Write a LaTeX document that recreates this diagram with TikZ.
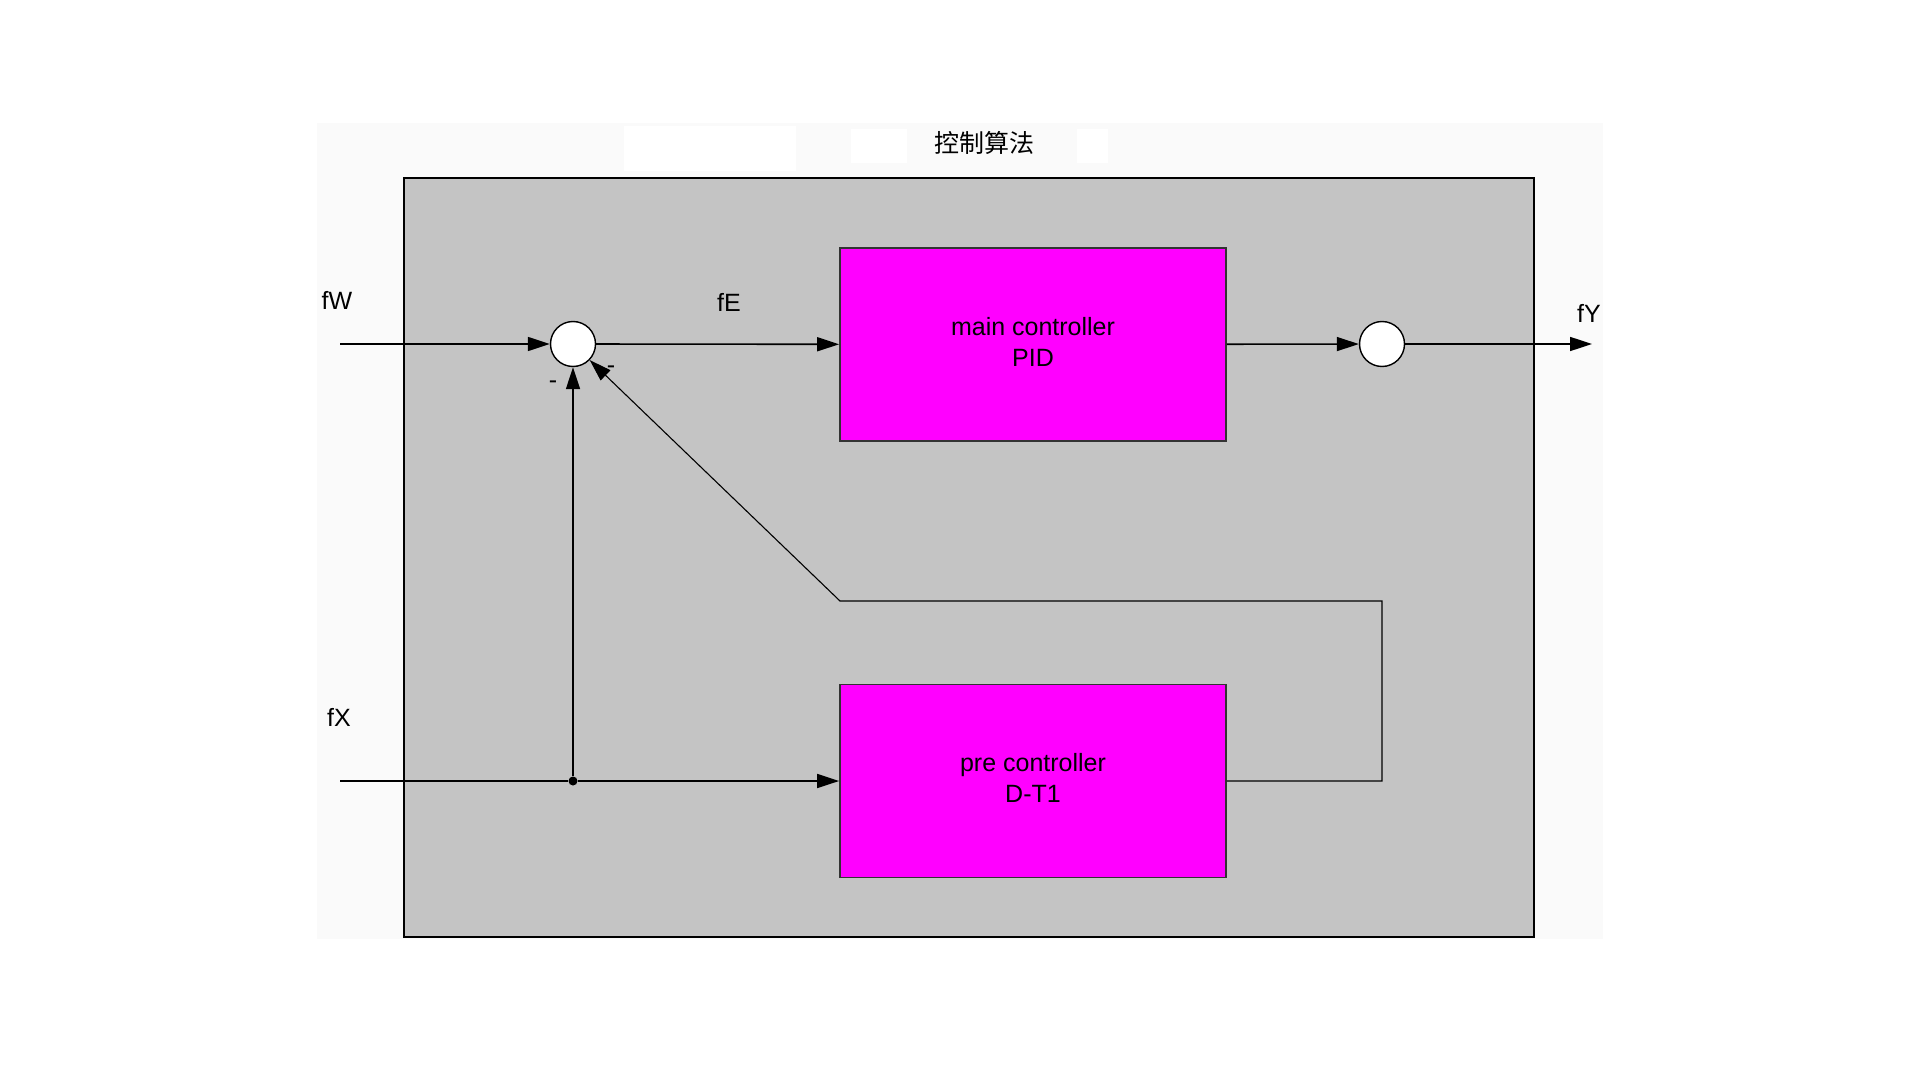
\documentclass[tikz,border=0pt]{standalone}
\usepackage{fontspec}
\setmainfont{Liberation Sans}
\newfontfamily\cjkfont{Noto Sans CJK SC}
\usepackage{tikz}
\usetikzlibrary{arrows.meta}
\definecolor{bggray}{RGB}{250,250,250}
\definecolor{boxgray}{RGB}{196,196,196}
\definecolor{ctrlmagenta}{RGB}{255,0,255}

\begin{document}
\begin{tikzpicture}[x=0.5pt,y=-0.5pt,font=\fontsize{12.5}{15.5}\selectfont,
    block/.style={draw=black!80,line width=0.9pt,fill=ctrlmagenta,minimum width=193pt,minimum height=96.5pt,align=center,inner sep=0pt},
    sum/.style={circle,draw,fill=white,line width=0.7pt,minimum size=22.5pt,inner sep=0pt},
    sig/.style={line width=0.8pt,-{Triangle[length=11pt,width=7pt]}},
    lbl/.style={inner sep=0pt}]
                      \useasboundingbox (0,0) rectangle (1920,1080);
                      \fill[white](0,0)rectangle(1920,1080);
                      \fill[bggray](317,123)rectangle(1603,939);
                      \fill[white](624,126)rectangle(796,171);
                      \fill[white](851,129)rectangle(907,163);
                      \fill[white](1077,129)rectangle(1108,163);
                      \node[lbl,font=\cjkfont\fontsize{12.5}{15}\selectfont](title)at(984,143){控制算法};
                      \draw[fill=boxgray,line width=0.9pt](404,178)rectangle(1534,937);
                      \node[sum](s1)at(573,344){};
                      \node[sum](s2)at(1382,344){};
                      \node[block](main)at(1033,344.5){main controller\\PID\vphantom{g}};
                      \node[block](pre)at(1033,781){pre controller\\D-T1\vphantom{g}};
                      \node[circle,fill,inner sep=0pt,minimum size=4.5pt](j)at(573,781){};
                      \coordinate(w)at(340,344);
                      \coordinate(x)at(340,781);
                      \coordinate(y)at(1592,344);
                      \coordinate(r)at(1382,781);
                      \coordinate(q)at(1382,601);
                      \coordinate(p)at(840,601);
                      \draw[sig](w)--(s1);
                      \draw[sig](s1)--(main);
                      \draw[sig](main)--(s2);
                      \draw[sig](s2)--(y);
                      \draw[line width=0.8pt](x)--(j);
                      \draw[sig](j)--(pre);
                      \draw[sig](j)--(s1);
                      \draw[sig,line width=0.55pt](pre)--(r)--(q)--(p)--(s1);
                      \node[lbl](fw)at(337,300){fW};
                      \node[lbl](fe)at(729,302){fE};
                      \node[lbl](fy)at(1589,313){fY};
                      \node[lbl](fx)at(339,717){fX};
                      \node[lbl](m1)at(553,385){-};
                      \node[lbl](m2)at(611,370){-};
                  \end{tikzpicture}
\end{document}
